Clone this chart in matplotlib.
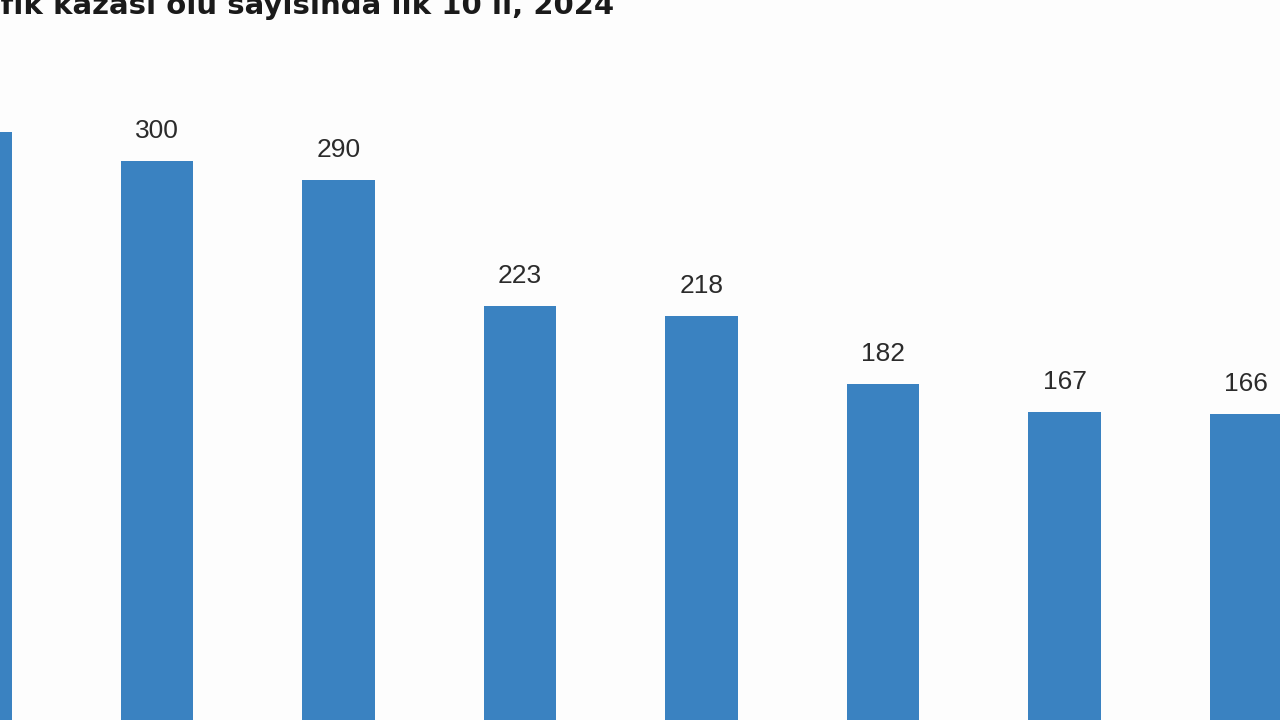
import matplotlib
matplotlib.use("Agg")
import matplotlib.pyplot as plt
from matplotlib import font_manager

# ranks of the provinces visible in the crop (names are off-screen)
ranks = [1, 2, 3, 4, 5, 6, 7, 8]
deaths = [315, 300, 290, 223, 218, 182, 167, 166]
title = "Trafik kazası ölü sayısında ilk 10 il, 2024"

barColor = "#3A82C1"
bgColor = "#FDFDFD"

names = {f.name for f in font_manager.fontManager.ttflist}
labelFont = "Liberation Sans Narrow" if "Liberation Sans Narrow" in names else "Liberation Sans"

fig = plt.figure(figsize=(12.8, 7.2), dpi=100)
fig.patch.set_facecolor(bgColor)
ax = fig.add_axes([0, 0, 1, 1])
ax.set_facecolor(bgColor)

ax.bar(ranks, deaths, width=0.40, color=barColor, zorder=2)
for r, v in zip(ranks, deaths):
    ax.annotate(str(v), (r, v), xytext=(0, 30), textcoords="offset pixels",
                ha="center", va="center", fontsize=19, color="#2b2b2b",
                family=labelFont)

# crop of the original chart: first bar cut on the left, last on the right
ax.set_xlim(1.135, 8.187)
ax.set_ylim(4.2, 385)
ax.axis("off")

fig.text(614 / 1280, 1 - 14 / 720, title, ha="right", va="baseline",
         fontsize=21, fontweight="bold", color="#1a1a1a",
         family="DejaVu Sans")

fig.savefig("out.png", dpi=100, facecolor=bgColor)
